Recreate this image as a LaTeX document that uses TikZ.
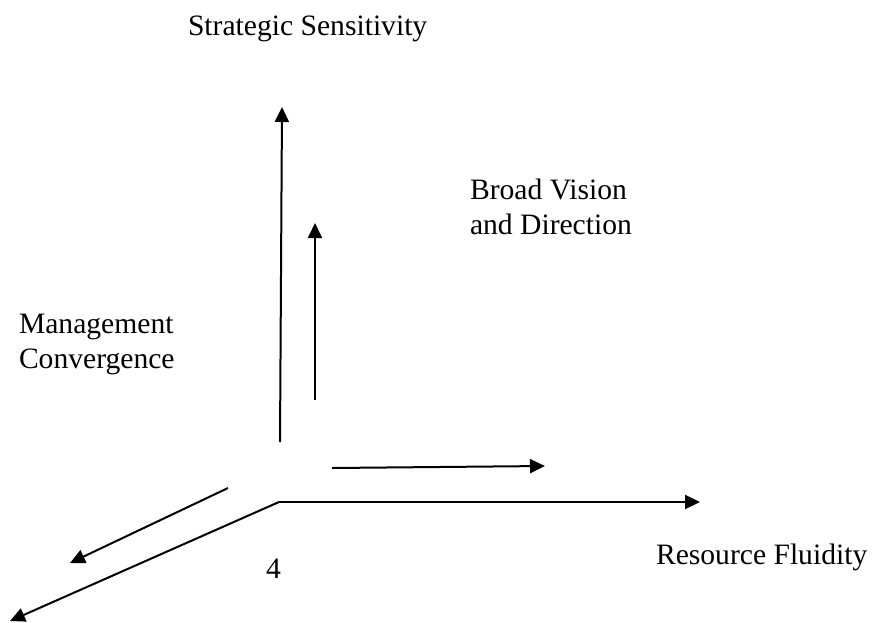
\documentclass[tikz,border=0pt]{standalone}
\usepackage{fontspec}
\setmainfont{Liberation Serif}
\usetikzlibrary{arrows.meta}

\begin{document}
\begin{tikzpicture}[> = {Triangle[length=7.5pt, width=7pt]}, % arrow head style
                x = 0.5pt, y = -0.5pt, % units of the sketch, y downwards
                line width = 1pt % line style
            ]

            \tikzstyle{every node}=[inner sep = 0pt, anchor = north west,
            align = left, font = \fontsize{14.8}{17.5}\selectfont]

            \useasboundingbox (0,0) rectangle (877,622);

            % axes
            \coordinate (o) at (279,502); \coordinate (up) at (282,107);
            \coordinate (upb) at (280,442); \coordinate (rt) at (700,502);
            \coordinate (dn) at (10,621);

            % inner arrows
            \coordinate (v1) at (315,400); \coordinate (v2) at (315,223);
            \coordinate (h1) at (332,468); \coordinate (h2) at (545,466);
            \coordinate (d1) at (228,488); \coordinate (d2) at (70,563);

            \node (ss) at (187,15) {Strategic Sensitivity};
            \node (bv) at (469,178) {Broad Vision\\and Direction};
            \node (mc) at (18,313) {Management\\Convergence};
            \node (rf) at (655,543) {Resource Fluidity};
            \node (num) at (265,558) {4};

            \path[->] (upb) edge (up); \path[->] (o) edge (rt); \path[->] (o)
            edge (dn); \path[->] (v1) edge (v2); \path[->] (h1) edge (h2);
            \path[->] (d1) edge (d2); \end{tikzpicture}
\end{document}
